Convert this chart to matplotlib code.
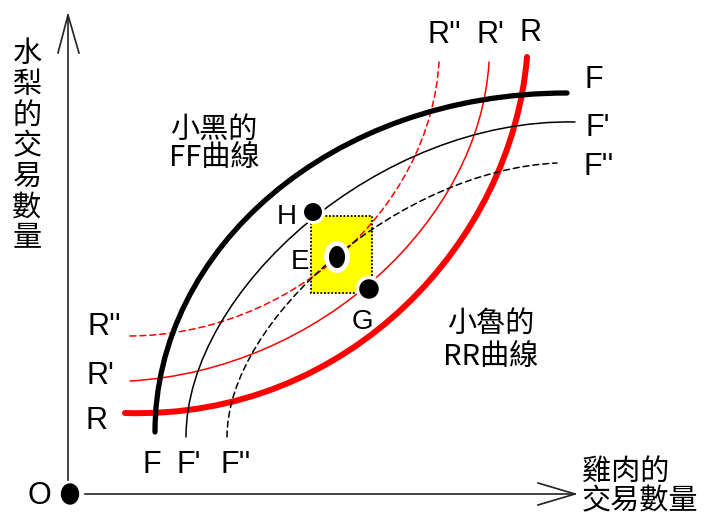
import matplotlib

matplotlib.use("Agg")
import matplotlib.pyplot as plt  # noqa: E402
from matplotlib.path import Path  # noqa: E402
from matplotlib.patches import PathPatch, Ellipse, Rectangle  # noqa: E402

# canvas is laid out in pixel units (x right, y down)
W, H = 710, 515

# cubic bezier control points for each curve
F_CURVE = [(155, 432), (155, 250), (330, 93), (567, 93)]
F1_CURVE = [(186, 437), (186, 290), (380, 118), (575, 122)]
F2_CURVE = [(227, 437), (227, 320), (400, 170), (557, 163)]
R_CURVE = [(125, 413), (350, 420), (512, 240), (527, 57)]
R1_CURVE = [(130, 381), (320, 370), (480, 220), (489, 62)]
R2_CURVE = [(130, 336), (290, 335), (430, 210), (439, 62)]

# points: name -> (x, y, w, h, white ring width)
POINTS = {
    "H": (313, 212, 21, 21, 2.2),
    "E": (337, 257, 21, 27, 3.5),
    "G": (369, 289, 23, 23, 2.5),
}
BOX = (311, 216, 372, 293)
ORIGIN = (70, 494)

LATIN = ["Liberation Sans", "Noto Sans CJK TC", "DejaVu Sans"]
CJK = ["Noto Sans CJK TC", "Liberation Sans", "DejaVu Sans"]

CURVE_LABELS = [
    ("R''", 104, 327), ("R'", 100, 376), ("R", 97, 421),
    ("F", 152, 465), ("F'", 189, 465), ("F''", 236, 465),
    ("R''", 444, 35), ("R'", 490, 35), ("R", 530, 33),
    ("F", 594, 80), ("F'", 598, 128), ("F''", 599, 167),
]
POINT_LABELS = [("H", 287, 217), ("E", 300, 262), ("G", 362, 322)]
Y_TITLE = "水梨的交易數量"
X_TITLE = ["雞肉的", "交易數量"]
FF_TEXT = ["小黑的", "FF曲線"]
RR_TEXT = ["小魯的", "RR曲線"]


def bezier(ax, pts, **kw):
    codes = [Path.MOVETO, Path.CURVE4, Path.CURVE4, Path.CURVE4]
    ax.add_patch(PathPatch(Path(pts, codes), fill=False, capstyle="round", **kw))


def main() -> None:
    fig = plt.figure(figsize=(W / 100, H / 100), dpi=100)
    ax = fig.add_axes([0, 0, 1, 1])
    ax.set_xlim(0, W)
    ax.set_ylim(H, 0)
    ax.axis("off")

    # axes with open arrow heads
    axc = "#222222"
    ax.plot([68, 68], [480, 15], color=axc, lw=1.2)
    ax.plot([58, 68, 79], [53, 15, 53], color=axc, lw=1.2)
    ax.plot([85, 575], [494, 494], color=axc, lw=1.2)
    ax.plot([538, 575, 538], [483, 494, 505], color=axc, lw=1.2)
    ax.add_patch(Ellipse(ORIGIN, 17, 20, color="black", zorder=5))
    ax.text(39, 496, "O", family=LATIN, fontsize=22, ha="center", va="center")

    x0, y0, x1, y1 = BOX
    ax.add_patch(Rectangle((x0, y0), x1 - x0, y1 - y0, facecolor="#ffff00",
                           edgecolor="black", lw=1.3, linestyle=(0, (1, 1)),
                           zorder=1))

    dash = (0, (3.9, 2.6))
    bezier(ax, R2_CURVE, edgecolor="red", lw=1.1, linestyle=dash, zorder=2)
    bezier(ax, R1_CURVE, edgecolor="red", lw=1.1, zorder=2)
    bezier(ax, R_CURVE, edgecolor="red", lw=4.3, zorder=2)
    bezier(ax, F2_CURVE, edgecolor="black", lw=1.1, linestyle=dash, zorder=2)
    bezier(ax, F1_CURVE, edgecolor="black", lw=1.1, zorder=2)
    bezier(ax, F_CURVE, edgecolor="black", lw=3.8, zorder=2)

    for name, (px, py, pw, ph, ring) in POINTS.items():
        ax.add_patch(Ellipse((px, py), pw, ph, facecolor="black",
                             edgecolor="white", lw=ring, zorder=6))

    for txt, tx, ty in CURVE_LABELS:
        ax.text(tx, ty, txt, family=LATIN, fontsize=22, ha="center", va="center")
    for txt, tx, ty in POINT_LABELS:
        ax.text(tx, ty, txt, family=LATIN, fontsize=20, ha="center", va="center",
                zorder=7)

    for i, ch in enumerate(Y_TITLE):
        ax.text(27, 54 + i * 30.7, ch, family=CJK, fontsize=21, ha="center",
                va="center")
    for i, line in enumerate(X_TITLE):
        ax.text(582, 472 + i * 29, line, family=CJK, fontsize=21, ha="left",
                va="center")
    for i, line in enumerate(FF_TEXT):
        ax.text(214, 130 + i * 28, line, family=CJK, fontsize=21, ha="center",
                va="center")
    for i, line in enumerate(RR_TEXT):
        ax.text(491, 324 + i * 33, line, family=CJK, fontsize=21, ha="center",
                va="center")

    fig.savefig("out.png", dpi=100)
    plt.close(fig)


if __name__ == "__main__":
    main()
